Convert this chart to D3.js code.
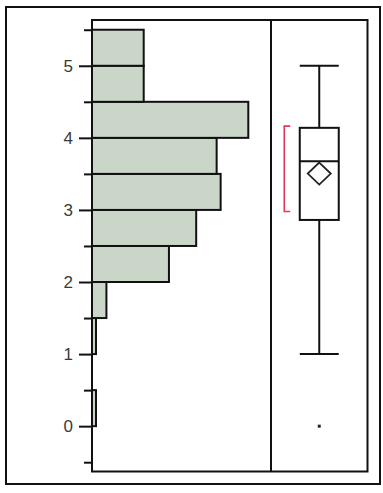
<!DOCTYPE html>
<html>
<head>
<meta charset="utf-8">
<script src="https://cdn.jsdelivr.net/npm/d3@7"></script>
<style>
html,body{margin:0;padding:0;background:#fff;}
svg{display:block;}
</style>
</head>
<body>
<svg id="chart" width="383" height="493"></svg>
<script>
// ---- data ----
const binStarts = [0.0, 0.5, 1.0, 1.5, 2.0, 2.5, 3.0, 3.5, 4.0, 4.5, 5.0];
const binWidth = 0.5;
const binCounts = [1, 0, 1, 3.6, 19.2, 26, 32.1, 31.1, 39, 12.9, 12.9];
const majorTicks = [0, 1, 2, 3, 4, 5];
const minorTicks = [-0.5, 0.5, 1.5, 2.5, 3.5, 4.5, 5.5];
const boxStats = {lowWhisker: 1.0, q1: 2.861, median: 3.676, q3: 4.139, highWhisker: 5.0};
const meanValue = [3.504];
const outliers = [0.0];
const shortestHalf = [2.978, 4.163];

// ---- layout ----
const svg = d3.select("#chart");
const plotLeft = 92, plotRight = 367.5, plotTop = 20, plotBottom = 471.5, divider = 271;

const y = d3.scaleLinear().domain([-0.629, 5.635]).range([plotBottom, plotTop]);
const x = d3.scaleLinear().domain([0, 39]).range([plotLeft, 248.3]);
const xBox = d3.scaleLinear().domain([-1, 1]).range([divider, plotRight]);

// outer frame
svg.append("rect").attr("x", 6).attr("y", 7).attr("width", 374).attr("height", 477)
  .attr("fill", "none").attr("stroke", "#111").attr("stroke-width", 2);

// histogram bars
svg.append("g").selectAll("rect").data(binStarts.map((s, i) => ({s, c: binCounts[i]})).filter(d => d.c > 0))
  .join("rect")
  .attr("x", x(0))
  .attr("y", d => y(d.s + binWidth))
  .attr("width", d => x(d.c) - x(0))
  .attr("height", d => y(d.s) - y(d.s + binWidth))
  .attr("fill", "#c9d6c8")
  .attr("stroke", "#111")
  .attr("stroke-width", 2);

// inner frame
svg.append("rect").attr("x", plotLeft).attr("y", plotTop)
  .attr("width", plotRight - plotLeft).attr("height", plotBottom - plotTop)
  .attr("fill", "none").attr("stroke", "#111").attr("stroke-width", 2);
svg.append("line").attr("x1", divider).attr("x2", divider).attr("y1", plotTop).attr("y2", plotBottom)
  .attr("stroke", "#111").attr("stroke-width", 2);

// y axis major
const axMajor = svg.append("g").attr("transform", `translate(${plotLeft},0)`)
  .call(d3.axisLeft(y).tickValues(majorTicks).tickSize(13).tickPadding(6).tickFormat(d3.format("d")));
axMajor.select(".domain").remove();
axMajor.selectAll(".tick line").attr("stroke", "#111").attr("stroke-width", 2);
axMajor.selectAll(".tick text").attr("fill", "#3a3a3a")
  .style("font-family", "'Liberation Sans', Arial, sans-serif").style("font-size", "17px");

// y axis minor
const axMinor = svg.append("g").attr("transform", `translate(${plotLeft},0)`)
  .call(d3.axisLeft(y).tickValues(minorTicks).tickSize(8).tickFormat(""));
axMinor.select(".domain").remove();
axMinor.selectAll(".tick line").attr("stroke", "#111").attr("stroke-width", 2);

// box plot
const cx = xBox(0), halfW = 19.5, capW = 19.5;
const g = svg.append("g").attr("stroke", "#111").attr("stroke-width", 2).attr("fill", "none");
g.append("line").attr("x1", cx).attr("x2", cx).attr("y1", y(boxStats.highWhisker)).attr("y2", y(boxStats.q3));
g.append("line").attr("x1", cx).attr("x2", cx).attr("y1", y(boxStats.q1)).attr("y2", y(boxStats.lowWhisker));
g.append("line").attr("x1", cx - capW).attr("x2", cx + capW).attr("y1", y(boxStats.highWhisker)).attr("y2", y(boxStats.highWhisker));
g.append("line").attr("x1", cx - capW).attr("x2", cx + capW).attr("y1", y(boxStats.lowWhisker)).attr("y2", y(boxStats.lowWhisker));
g.append("rect").attr("x", cx - halfW).attr("y", y(boxStats.q3))
  .attr("width", 2 * halfW).attr("height", y(boxStats.q1) - y(boxStats.q3)).attr("fill", "#fff");
g.append("line").attr("x1", cx - halfW).attr("x2", cx + halfW).attr("y1", y(boxStats.median)).attr("y2", y(boxStats.median));

// mean diamond
g.selectAll("path.mean").data(meanValue).join("path").attr("class", "mean")
  .attr("d", d => { const my = y(d); return `M${cx},${my - 11}L${cx + 11.5},${my}L${cx},${my + 11}L${cx - 11.5},${my}Z`; })
  .attr("stroke", "#222").attr("stroke-width", 1.8);

// outliers
svg.selectAll("rect.out").data(outliers).join("rect").attr("class", "out")
  .attr("x", cx - 1.5).attr("y", d => y(d) - 1.5).attr("width", 3).attr("height", 3).attr("fill", "#222");

// shortest half bracket
const bx = cx - 35;
svg.append("path")
  .attr("d", `M${bx + 6},${y(shortestHalf[1])}H${bx}V${y(shortestHalf[0])}H${bx + 6}`)
  .attr("fill", "none").attr("stroke", "#e8385a").attr("stroke-width", 1.6);
</script>
</body>
</html>
